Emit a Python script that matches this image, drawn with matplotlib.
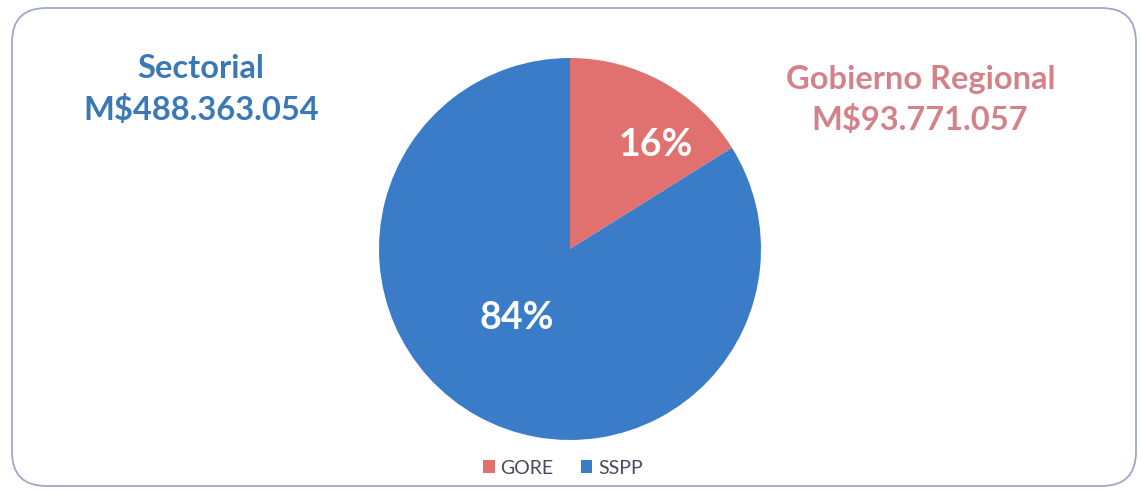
import matplotlib.pyplot as plt
from matplotlib.patches import FancyBboxPatch

categories = ["GORE", "SSPP"]
values = [93771057, 488363054]
pct_labels = ["16%", "84%"]
colors = ["#e0716f", "#3a7cc8"]
title_left = ["Sectorial", "M$488.363.054"]
title_right = ["Gobierno Regional", "M$93.771.057"]

W, H = 1141, 494
fig = plt.figure(figsize=(W / 100, H / 100), dpi=100)
fig.patch.set_facecolor("white")

# outer frame
frame = FancyBboxPatch((12 / W, 8 / H), (1124 / W), (478 / H),
                       boxstyle="round,pad=0,rounding_size=0.03",
                       transform=fig.transFigure, facecolor="none",
                       edgecolor="#9ea8cc", linewidth=1.3, mutation_aspect=W / H)
fig.patches.append(frame)

# pie axes: center (570, 249), radius ~191 px
r = 191
ax = fig.add_axes([(570 - r) / W, (H - 249 - r) / H, 2 * r / W, 2 * r / H])
wedges, _ = ax.pie(values, colors=colors, startangle=90, counterclock=False,
                   radius=1.0, wedgeprops=dict(linewidth=0))
ax.set_xlim(-1, 1)
ax.set_ylim(-1, 1)
ax.set_aspect("equal")
ax.axis("off")

font = "Lato"
ax.text(0.45, 0.545, pct_labels[0], color="white", fontsize=27,
        fontweight="bold", family=font, ha="center", va="center")
ax.text(-0.28, -0.36, pct_labels[1], color="white", fontsize=27,
        fontweight="bold", family=font, ha="center", va="center")

blue_txt = "#3b79b6"
pink_txt = "#d4828a"
fs = 23.5
fig.text(201 / W, 1 - 69 / H, title_left[0], color=blue_txt, fontsize=fs,
         fontweight="bold", family=font, ha="center", va="center")
fig.text(201 / W, 1 - 110 / H, title_left[1], color=blue_txt, fontsize=fs,
         fontweight="bold", family=font, ha="center", va="center")
fig.text(921 / W, 1 - 79 / H, title_right[0], color=pink_txt, fontsize=fs,
         fontweight="bold", family=font, ha="center", va="center")
fig.text(920 / W, 1 - 120 / H, title_right[1], color=pink_txt, fontsize=fs,
         fontweight="bold", family=font, ha="center", va="center")

leg = fig.legend(wedges, categories, loc="center", bbox_to_anchor=(563 / W, 1 - 468 / H),
                 ncol=2, frameon=False, handlelength=0.6, handleheight=0.6,
                 handletextpad=0.3, columnspacing=1.4,
                 prop=dict(family=font, size=14))
for t in leg.get_texts():
    t.set_color("#454a5e")

fig.savefig("out.png", dpi=100, facecolor="white")
